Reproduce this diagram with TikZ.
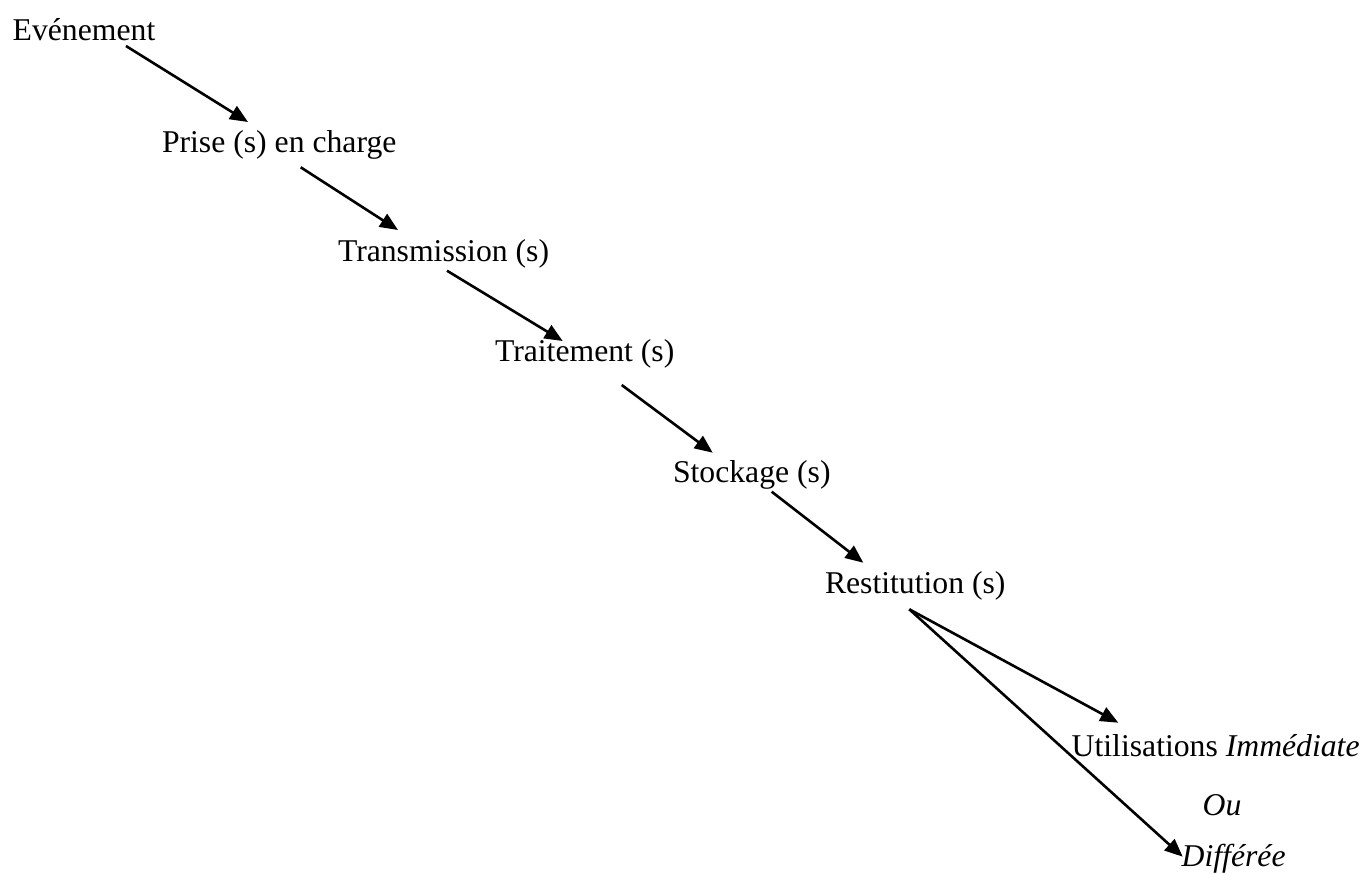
\documentclass[tikz,border=0pt]{standalone}
\usepackage{fontspec}
\setmainfont{Liberation Serif}
\usetikzlibrary{arrows.meta,calc}
\tikzset{
  lbl/.style={anchor=base west,inner sep=0pt,outer sep=0pt,font=\fontsize{31.7}{38}\selectfont},
  conn/.style={line width=2.6pt,-{Triangle[length=18pt,width=15pt]}}
}
\begin{document}
\begin{tikzpicture}[x=1pt,y=-1pt]
\useasboundingbox (0,0) rectangle (1362,873);
\node[lbl] (evt)   at (12.7,40)   {Evénement};
\node[lbl] (prise) at (162,152)   {Prise (s) en charge};
\node[lbl] (trans) at (338,261)   {Transmission (s)};
\node[lbl] (trait) at (495,361)   {Traitement (s)};
\node[lbl] (stock) at (673,482)   {Stockage (s)};
\node[lbl] (rest)  at (825,593)   {Restitution (s)};
\node[lbl] (util)  at (1071.7,756) {Utilisations \textit{Immédiate}};
\node[lbl] (ou)    at (1202.7,815) {\textit{Ou}};
\node[lbl] (diff)  at (1181.7,866) {\textit{Différée}};
\draw[conn] ($(evt.base west)+(113.3,6)$) -- ($(prise.base west)+(86,-30)$);
\draw[conn] ($(prise.base west)+(138.7,15.3)$) -- ($(trans.base west)+(60,-31)$);
\draw[conn] ($(trans.base west)+(109,9.7)$) -- ($(trait.base west)+(67.7,-20)$);
\draw[conn] ($(trait.base west)+(126.7,24)$) -- ($(stock.base west)+(39.7,-29.3)$);
\draw[conn] ($(stock.base west)+(98.7,9.7)$) -- ($(rest.base west)+(38.3,-30.3)$);
\coordinate (fork) at ($(rest.base west)+(84.3,16.3)$);
\draw[conn] (fork) -- ($(util.base west)+(46.6,-33.3)$);
\draw[conn] (fork) -- ($(diff.base west)+(1,-9.3)$);
\end{tikzpicture}
\end{document}
